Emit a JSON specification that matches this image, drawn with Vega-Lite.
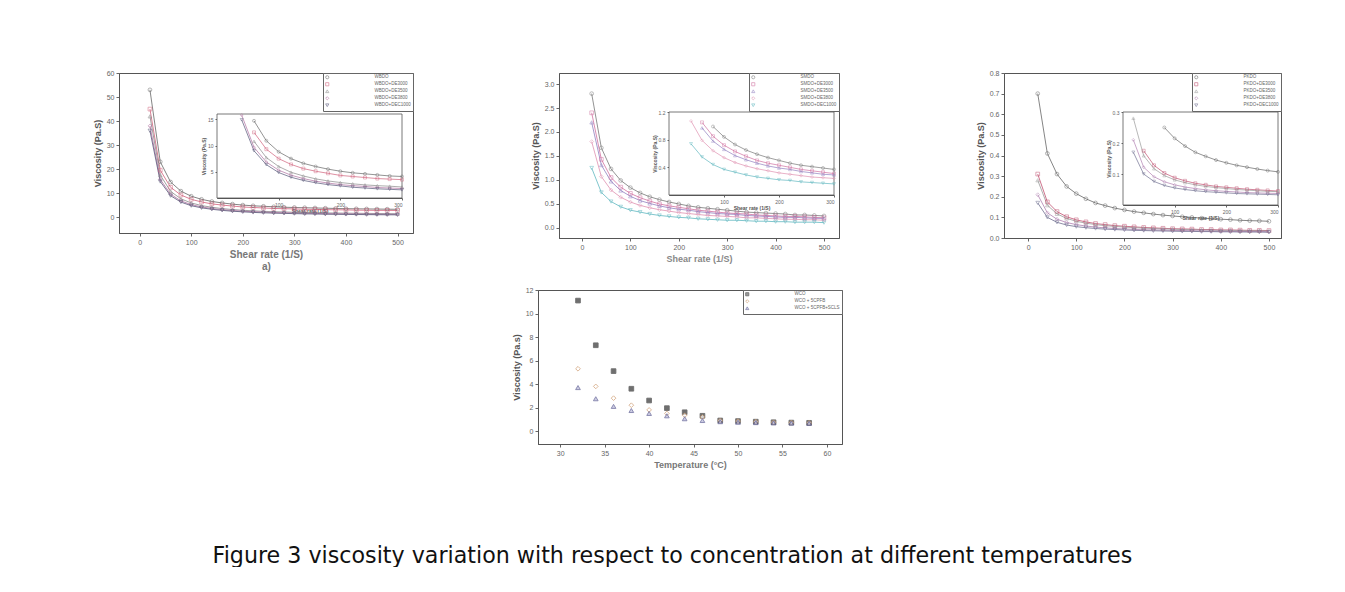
{
"$schema": "https://vega.github.io/schema/vega-lite/v6.json",
"background": "white",
"padding": {"left": 92, "top": 68, "right": 0, "bottom": 0},
"spacing": 13,
"title": {"text": "Figure 3 viscosity variation with respect to concentration at different temperatures", "orient": "bottom", "anchor": "middle", "font": "DejaVu Sans", "fontSize": 22.2, "fontWeight": "normal", "color": "#111111", "offset": 75, "dx": -15},
"config": {
  "font": "Liberation Sans",
  "view": {"stroke": "#555555", "strokeWidth": 1},
  "axis": {"grid": false, "labelFont": "Liberation Sans", "labelFontSize": 7, "labelColor": "#666666", "titleFont": "Liberation Sans", "titleFontSize": 9, "titleColor": "#555555", "tickColor": "#666666", "domainColor": "#555555", "tickSize": 3, "labelPadding": 2, "titlePadding": 4},
  "legend": {"orient": "top-right", "offset": 0, "strokeColor": "#666666", "fillColor": "white", "padding": 2, "labelFontSize": 4.5, "labelColor": "#666666", "symbolSize": 10, "rowPadding": 0, "labelOffset": 45, "symbolStrokeWidth": 0.8}
},
"resolve": {"scale": {"color": "independent", "shape": "independent", "fill": "independent"}, "legend": {"color": "independent", "shape": "independent", "fill": "independent"}},
"datasets": {
"p1": [
{"s":"WBDO","x":20,"v":53},{"s":"WBDO","x":40,"v":23.1},{"s":"WBDO","x":60,"v":14.7},{"s":"WBDO","x":80,"v":10.9},{"s":"WBDO","x":100,"v":8.8},{"s":"WBDO","x":120,"v":7.5},{"s":"WBDO","x":140,"v":6.6},{"s":"WBDO","x":160,"v":6.0},{"s":"WBDO","x":180,"v":5.5},{"s":"WBDO","x":200,"v":5.1},{"s":"WBDO","x":220,"v":4.8},{"s":"WBDO","x":240,"v":4.6},{"s":"WBDO","x":260,"v":4.4},{"s":"WBDO","x":280,"v":4.2},{"s":"WBDO","x":300,"v":4.1},{"s":"WBDO","x":320,"v":4.0},{"s":"WBDO","x":340,"v":3.9},{"s":"WBDO","x":360,"v":3.8},{"s":"WBDO","x":380,"v":3.7},{"s":"WBDO","x":400,"v":3.6},{"s":"WBDO","x":420,"v":3.55},{"s":"WBDO","x":440,"v":3.5},{"s":"WBDO","x":460,"v":3.45},{"s":"WBDO","x":480,"v":3.4},{"s":"WBDO","x":500,"v":3.35},
{"s":"WBDO+DE3000","x":20,"v":45},{"s":"WBDO+DE3000","x":40,"v":19.6},{"s":"WBDO+DE3000","x":60,"v":12.5},{"s":"WBDO+DE3000","x":80,"v":9.3},{"s":"WBDO+DE3000","x":100,"v":7.5},{"s":"WBDO+DE3000","x":120,"v":6.4},{"s":"WBDO+DE3000","x":140,"v":5.6},{"s":"WBDO+DE3000","x":160,"v":5.1},{"s":"WBDO+DE3000","x":180,"v":4.7},{"s":"WBDO+DE3000","x":200,"v":4.3},{"s":"WBDO+DE3000","x":220,"v":4.1},{"s":"WBDO+DE3000","x":240,"v":3.9},{"s":"WBDO+DE3000","x":260,"v":3.7},{"s":"WBDO+DE3000","x":280,"v":3.6},{"s":"WBDO+DE3000","x":300,"v":3.5},{"s":"WBDO+DE3000","x":320,"v":3.35},{"s":"WBDO+DE3000","x":340,"v":3.3},{"s":"WBDO+DE3000","x":360,"v":3.2},{"s":"WBDO+DE3000","x":380,"v":3.15},{"s":"WBDO+DE3000","x":400,"v":3.1},{"s":"WBDO+DE3000","x":420,"v":3.0},{"s":"WBDO+DE3000","x":440,"v":2.95},{"s":"WBDO+DE3000","x":460,"v":2.9},{"s":"WBDO+DE3000","x":480,"v":2.9},{"s":"WBDO+DE3000","x":500,"v":2.85},
{"s":"WBDO+DE3500","x":20,"v":42},{"s":"WBDO+DE3500","x":40,"v":17.6},{"s":"WBDO+DE3500","x":60,"v":10.8},{"s":"WBDO+DE3500","x":80,"v":7.7},{"s":"WBDO+DE3500","x":100,"v":6.0},{"s":"WBDO+DE3500","x":120,"v":4.9},{"s":"WBDO+DE3500","x":140,"v":4.2},{"s":"WBDO+DE3500","x":160,"v":3.65},{"s":"WBDO+DE3500","x":180,"v":3.25},{"s":"WBDO+DE3500","x":200,"v":2.95},{"s":"WBDO+DE3500","x":220,"v":2.7},{"s":"WBDO+DE3500","x":240,"v":2.5},{"s":"WBDO+DE3500","x":260,"v":2.35},{"s":"WBDO+DE3500","x":280,"v":2.25},{"s":"WBDO+DE3500","x":300,"v":2.1},{"s":"WBDO+DE3500","x":320,"v":2.0},{"s":"WBDO+DE3500","x":340,"v":1.95},{"s":"WBDO+DE3500","x":360,"v":1.85},{"s":"WBDO+DE3500","x":380,"v":1.8},{"s":"WBDO+DE3500","x":400,"v":1.75},{"s":"WBDO+DE3500","x":420,"v":1.7},{"s":"WBDO+DE3500","x":440,"v":1.65},{"s":"WBDO+DE3500","x":460,"v":1.6},{"s":"WBDO+DE3500","x":480,"v":1.55},{"s":"WBDO+DE3500","x":500,"v":1.5},
{"s":"WBDO+DE3800","x":20,"v":38},{"s":"WBDO+DE3800","x":40,"v":15.8},{"s":"WBDO+DE3800","x":60,"v":9.65},{"s":"WBDO+DE3800","x":80,"v":6.85},{"s":"WBDO+DE3800","x":100,"v":5.3},{"s":"WBDO+DE3800","x":120,"v":4.35},{"s":"WBDO+DE3800","x":140,"v":3.7},{"s":"WBDO+DE3800","x":160,"v":3.2},{"s":"WBDO+DE3800","x":180,"v":2.85},{"s":"WBDO+DE3800","x":200,"v":2.55},{"s":"WBDO+DE3800","x":220,"v":2.35},{"s":"WBDO+DE3800","x":240,"v":2.2},{"s":"WBDO+DE3800","x":260,"v":2.0},{"s":"WBDO+DE3800","x":280,"v":1.9},{"s":"WBDO+DE3800","x":300,"v":1.8},{"s":"WBDO+DE3800","x":320,"v":1.7},{"s":"WBDO+DE3800","x":340,"v":1.65},{"s":"WBDO+DE3800","x":360,"v":1.55},{"s":"WBDO+DE3800","x":380,"v":1.5},{"s":"WBDO+DE3800","x":400,"v":1.45},{"s":"WBDO+DE3800","x":420,"v":1.4},{"s":"WBDO+DE3800","x":440,"v":1.37},{"s":"WBDO+DE3800","x":460,"v":1.33},{"s":"WBDO+DE3800","x":480,"v":1.3},{"s":"WBDO+DE3800","x":500,"v":1.27},
{"s":"WBDO+DEC1000","x":20,"v":36},{"s":"WBDO+DEC1000","x":40,"v":14.9},{"s":"WBDO+DEC1000","x":60,"v":9.0},{"s":"WBDO+DEC1000","x":80,"v":6.35},{"s":"WBDO+DEC1000","x":100,"v":4.85},{"s":"WBDO+DEC1000","x":120,"v":3.95},{"s":"WBDO+DEC1000","x":140,"v":3.35},{"s":"WBDO+DEC1000","x":160,"v":2.9},{"s":"WBDO+DEC1000","x":180,"v":2.55},{"s":"WBDO+DEC1000","x":200,"v":2.3},{"s":"WBDO+DEC1000","x":220,"v":2.05},{"s":"WBDO+DEC1000","x":240,"v":1.9},{"s":"WBDO+DEC1000","x":260,"v":1.75},{"s":"WBDO+DEC1000","x":280,"v":1.65},{"s":"WBDO+DEC1000","x":300,"v":1.55},{"s":"WBDO+DEC1000","x":320,"v":1.45},{"s":"WBDO+DEC1000","x":340,"v":1.4},{"s":"WBDO+DEC1000","x":360,"v":1.3},{"s":"WBDO+DEC1000","x":380,"v":1.27},{"s":"WBDO+DEC1000","x":400,"v":1.22},{"s":"WBDO+DEC1000","x":420,"v":1.18},{"s":"WBDO+DEC1000","x":440,"v":1.14},{"s":"WBDO+DEC1000","x":460,"v":1.1},{"s":"WBDO+DEC1000","x":480,"v":1.07},{"s":"WBDO+DEC1000","x":500,"v":1.04}
],
"p2": [
{"s":"SMDO","x":20,"v":2.8},{"s":"SMDO","x":40,"v":1.67},{"s":"SMDO","x":60,"v":1.23},{"s":"SMDO","x":80,"v":0.99},{"s":"SMDO","x":100,"v":0.84},{"s":"SMDO","x":120,"v":0.73},{"s":"SMDO","x":140,"v":0.65},{"s":"SMDO","x":160,"v":0.59},{"s":"SMDO","x":180,"v":0.54},{"s":"SMDO","x":200,"v":0.5},{"s":"SMDO","x":220,"v":0.46},{"s":"SMDO","x":240,"v":0.43},{"s":"SMDO","x":260,"v":0.41},{"s":"SMDO","x":280,"v":0.39},{"s":"SMDO","x":300,"v":0.37},{"s":"SMDO","x":320,"v":0.35},{"s":"SMDO","x":340,"v":0.33},{"s":"SMDO","x":360,"v":0.32},{"s":"SMDO","x":380,"v":0.31},{"s":"SMDO","x":400,"v":0.3},{"s":"SMDO","x":420,"v":0.29},{"s":"SMDO","x":440,"v":0.27},{"s":"SMDO","x":460,"v":0.27},{"s":"SMDO","x":480,"v":0.26},{"s":"SMDO","x":500,"v":0.25},
{"s":"SMDO+DE3000","x":20,"v":2.4},{"s":"SMDO+DE3000","x":40,"v":1.43},{"s":"SMDO+DE3000","x":60,"v":1.05},{"s":"SMDO+DE3000","x":80,"v":0.85},{"s":"SMDO+DE3000","x":100,"v":0.72},{"s":"SMDO+DE3000","x":120,"v":0.63},{"s":"SMDO+DE3000","x":140,"v":0.56},{"s":"SMDO+DE3000","x":160,"v":0.5},{"s":"SMDO+DE3000","x":180,"v":0.46},{"s":"SMDO+DE3000","x":200,"v":0.43},{"s":"SMDO+DE3000","x":220,"v":0.4},{"s":"SMDO+DE3000","x":240,"v":0.37},{"s":"SMDO+DE3000","x":260,"v":0.35},{"s":"SMDO+DE3000","x":280,"v":0.33},{"s":"SMDO+DE3000","x":300,"v":0.31},{"s":"SMDO+DE3000","x":320,"v":0.3},{"s":"SMDO+DE3000","x":340,"v":0.29},{"s":"SMDO+DE3000","x":360,"v":0.27},{"s":"SMDO+DE3000","x":380,"v":0.26},{"s":"SMDO+DE3000","x":400,"v":0.25},{"s":"SMDO+DE3000","x":420,"v":0.24},{"s":"SMDO+DE3000","x":440,"v":0.24},{"s":"SMDO+DE3000","x":460,"v":0.23},{"s":"SMDO+DE3000","x":480,"v":0.22},{"s":"SMDO+DE3000","x":500,"v":0.21},
{"s":"SMDO+DE3500","x":20,"v":2.2},{"s":"SMDO+DE3500","x":40,"v":1.31},{"s":"SMDO+DE3500","x":60,"v":0.97},{"s":"SMDO+DE3500","x":80,"v":0.78},{"s":"SMDO+DE3500","x":100,"v":0.66},{"s":"SMDO+DE3500","x":120,"v":0.57},{"s":"SMDO+DE3500","x":140,"v":0.51},{"s":"SMDO+DE3500","x":160,"v":0.46},{"s":"SMDO+DE3500","x":180,"v":0.42},{"s":"SMDO+DE3500","x":200,"v":0.39},{"s":"SMDO+DE3500","x":220,"v":0.37},{"s":"SMDO+DE3500","x":240,"v":0.34},{"s":"SMDO+DE3500","x":260,"v":0.32},{"s":"SMDO+DE3500","x":280,"v":0.3},{"s":"SMDO+DE3500","x":300,"v":0.29},{"s":"SMDO+DE3500","x":320,"v":0.28},{"s":"SMDO+DE3500","x":340,"v":0.26},{"s":"SMDO+DE3500","x":360,"v":0.25},{"s":"SMDO+DE3500","x":380,"v":0.24},{"s":"SMDO+DE3500","x":400,"v":0.23},{"s":"SMDO+DE3500","x":420,"v":0.22},{"s":"SMDO+DE3500","x":440,"v":0.22},{"s":"SMDO+DE3500","x":460,"v":0.21},{"s":"SMDO+DE3500","x":480,"v":0.2},{"s":"SMDO+DE3500","x":500,"v":0.2},
{"s":"SMDO+DE3800","x":20,"v":1.8},{"s":"SMDO+DE3800","x":40,"v":1.07},{"s":"SMDO+DE3800","x":60,"v":0.79},{"s":"SMDO+DE3800","x":80,"v":0.64},{"s":"SMDO+DE3800","x":100,"v":0.54},{"s":"SMDO+DE3800","x":120,"v":0.47},{"s":"SMDO+DE3800","x":140,"v":0.42},{"s":"SMDO+DE3800","x":160,"v":0.38},{"s":"SMDO+DE3800","x":180,"v":0.35},{"s":"SMDO+DE3800","x":200,"v":0.32},{"s":"SMDO+DE3800","x":220,"v":0.3},{"s":"SMDO+DE3800","x":240,"v":0.28},{"s":"SMDO+DE3800","x":260,"v":0.26},{"s":"SMDO+DE3800","x":280,"v":0.25},{"s":"SMDO+DE3800","x":300,"v":0.24},{"s":"SMDO+DE3800","x":320,"v":0.23},{"s":"SMDO+DE3800","x":340,"v":0.21},{"s":"SMDO+DE3800","x":360,"v":0.21},{"s":"SMDO+DE3800","x":380,"v":0.2},{"s":"SMDO+DE3800","x":400,"v":0.19},{"s":"SMDO+DE3800","x":420,"v":0.18},{"s":"SMDO+DE3800","x":440,"v":0.18},{"s":"SMDO+DE3800","x":460,"v":0.17},{"s":"SMDO+DE3800","x":480,"v":0.17},{"s":"SMDO+DE3800","x":500,"v":0.16},
{"s":"SMDO+DEC1000","x":20,"v":1.25},{"s":"SMDO+DEC1000","x":40,"v":0.74},{"s":"SMDO+DEC1000","x":60,"v":0.55},{"s":"SMDO+DEC1000","x":80,"v":0.44},{"s":"SMDO+DEC1000","x":100,"v":0.37},{"s":"SMDO+DEC1000","x":120,"v":0.33},{"s":"SMDO+DEC1000","x":140,"v":0.29},{"s":"SMDO+DEC1000","x":160,"v":0.26},{"s":"SMDO+DEC1000","x":180,"v":0.24},{"s":"SMDO+DEC1000","x":200,"v":0.22},{"s":"SMDO+DEC1000","x":220,"v":0.21},{"s":"SMDO+DEC1000","x":240,"v":0.19},{"s":"SMDO+DEC1000","x":260,"v":0.18},{"s":"SMDO+DEC1000","x":280,"v":0.17},{"s":"SMDO+DEC1000","x":300,"v":0.16},{"s":"SMDO+DEC1000","x":320,"v":0.16},{"s":"SMDO+DEC1000","x":340,"v":0.15},{"s":"SMDO+DEC1000","x":360,"v":0.14},{"s":"SMDO+DEC1000","x":380,"v":0.14},{"s":"SMDO+DEC1000","x":400,"v":0.13},{"s":"SMDO+DEC1000","x":420,"v":0.13},{"s":"SMDO+DEC1000","x":440,"v":0.12},{"s":"SMDO+DEC1000","x":460,"v":0.12},{"s":"SMDO+DEC1000","x":480,"v":0.12},{"s":"SMDO+DEC1000","x":500,"v":0.11}
],
"p3": [
{"s":"PKDO","x":20,"v":0.7},{"s":"PKDO","x":40,"v":0.41},{"s":"PKDO","x":60,"v":0.31},{"s":"PKDO","x":80,"v":0.25},{"s":"PKDO","x":100,"v":0.215},{"s":"PKDO","x":120,"v":0.19},{"s":"PKDO","x":140,"v":0.17},{"s":"PKDO","x":160,"v":0.157},{"s":"PKDO","x":180,"v":0.145},{"s":"PKDO","x":200,"v":0.136},{"s":"PKDO","x":220,"v":0.128},{"s":"PKDO","x":240,"v":0.122},{"s":"PKDO","x":260,"v":0.116},{"s":"PKDO","x":280,"v":0.111},{"s":"PKDO","x":300,"v":0.107},{"s":"PKDO","x":320,"v":0.103},{"s":"PKDO","x":340,"v":0.1},{"s":"PKDO","x":360,"v":0.096},{"s":"PKDO","x":380,"v":0.094},{"s":"PKDO","x":400,"v":0.091},{"s":"PKDO","x":420,"v":0.089},{"s":"PKDO","x":440,"v":0.086},{"s":"PKDO","x":460,"v":0.084},{"s":"PKDO","x":480,"v":0.083},{"s":"PKDO","x":500,"v":0.081},
{"s":"PKDO+DE3000","x":20,"v":0.31},{"s":"PKDO+DE3000","x":40,"v":0.175},{"s":"PKDO+DE3000","x":60,"v":0.128},{"s":"PKDO+DE3000","x":80,"v":0.103},{"s":"PKDO+DE3000","x":100,"v":0.088},{"s":"PKDO+DE3000","x":120,"v":0.078},{"s":"PKDO+DE3000","x":140,"v":0.07},{"s":"PKDO+DE3000","x":160,"v":0.065},{"s":"PKDO+DE3000","x":180,"v":0.06},{"s":"PKDO+DE3000","x":200,"v":0.057},{"s":"PKDO+DE3000","x":220,"v":0.054},{"s":"PKDO+DE3000","x":240,"v":0.051},{"s":"PKDO+DE3000","x":260,"v":0.049},{"s":"PKDO+DE3000","x":280,"v":0.047},{"s":"PKDO+DE3000","x":300,"v":0.045},{"s":"PKDO+DE3000","x":320,"v":0.044},{"s":"PKDO+DE3000","x":340,"v":0.043},{"s":"PKDO+DE3000","x":360,"v":0.041},{"s":"PKDO+DE3000","x":380,"v":0.041},{"s":"PKDO+DE3000","x":400,"v":0.039},{"s":"PKDO+DE3000","x":420,"v":0.039},{"s":"PKDO+DE3000","x":440,"v":0.038},{"s":"PKDO+DE3000","x":460,"v":0.037},{"s":"PKDO+DE3000","x":480,"v":0.037},{"s":"PKDO+DE3000","x":500,"v":0.036},
{"s":"PKDO+DE3500","x":20,"v":0.28},{"s":"PKDO+DE3500","x":40,"v":0.159},{"s":"PKDO+DE3500","x":60,"v":0.117},{"s":"PKDO+DE3500","x":80,"v":0.095},{"s":"PKDO+DE3500","x":100,"v":0.081},{"s":"PKDO+DE3500","x":120,"v":0.072},{"s":"PKDO+DE3500","x":140,"v":0.065},{"s":"PKDO+DE3500","x":160,"v":0.06},{"s":"PKDO+DE3500","x":180,"v":0.056},{"s":"PKDO+DE3500","x":200,"v":0.053},{"s":"PKDO+DE3500","x":220,"v":0.05},{"s":"PKDO+DE3500","x":240,"v":0.048},{"s":"PKDO+DE3500","x":260,"v":0.046},{"s":"PKDO+DE3500","x":280,"v":0.044},{"s":"PKDO+DE3500","x":300,"v":0.043},{"s":"PKDO+DE3500","x":320,"v":0.041},{"s":"PKDO+DE3500","x":340,"v":0.04},{"s":"PKDO+DE3500","x":360,"v":0.039},{"s":"PKDO+DE3500","x":380,"v":0.038},{"s":"PKDO+DE3500","x":400,"v":0.037},{"s":"PKDO+DE3500","x":420,"v":0.037},{"s":"PKDO+DE3500","x":440,"v":0.036},{"s":"PKDO+DE3500","x":460,"v":0.035},{"s":"PKDO+DE3500","x":480,"v":0.035},{"s":"PKDO+DE3500","x":500,"v":0.034},
{"s":"PKDO+DE3800","x":20,"v":0.21},{"s":"PKDO+DE3800","x":40,"v":0.122},{"s":"PKDO+DE3800","x":60,"v":0.091},{"s":"PKDO+DE3800","x":80,"v":0.075},{"s":"PKDO+DE3800","x":100,"v":0.065},{"s":"PKDO+DE3800","x":120,"v":0.058},{"s":"PKDO+DE3800","x":140,"v":0.053},{"s":"PKDO+DE3800","x":160,"v":0.049},{"s":"PKDO+DE3800","x":180,"v":0.046},{"s":"PKDO+DE3800","x":200,"v":0.044},{"s":"PKDO+DE3800","x":220,"v":0.042},{"s":"PKDO+DE3800","x":240,"v":0.04},{"s":"PKDO+DE3800","x":260,"v":0.039},{"s":"PKDO+DE3800","x":280,"v":0.038},{"s":"PKDO+DE3800","x":300,"v":0.037},{"s":"PKDO+DE3800","x":320,"v":0.036},{"s":"PKDO+DE3800","x":340,"v":0.035},{"s":"PKDO+DE3800","x":360,"v":0.034},{"s":"PKDO+DE3800","x":380,"v":0.033},{"s":"PKDO+DE3800","x":400,"v":0.033},{"s":"PKDO+DE3800","x":420,"v":0.032},{"s":"PKDO+DE3800","x":440,"v":0.032},{"s":"PKDO+DE3800","x":460,"v":0.031},{"s":"PKDO+DE3800","x":480,"v":0.031},{"s":"PKDO+DE3800","x":500,"v":0.03},
{"s":"PKDO+DEC1000","x":20,"v":0.17},{"s":"PKDO+DEC1000","x":40,"v":0.1},{"s":"PKDO+DEC1000","x":60,"v":0.076},{"s":"PKDO+DEC1000","x":80,"v":0.063},{"s":"PKDO+DEC1000","x":100,"v":0.055},{"s":"PKDO+DEC1000","x":120,"v":0.05},{"s":"PKDO+DEC1000","x":140,"v":0.046},{"s":"PKDO+DEC1000","x":160,"v":0.043},{"s":"PKDO+DEC1000","x":180,"v":0.041},{"s":"PKDO+DEC1000","x":200,"v":0.039},{"s":"PKDO+DEC1000","x":220,"v":0.037},{"s":"PKDO+DEC1000","x":240,"v":0.036},{"s":"PKDO+DEC1000","x":260,"v":0.035},{"s":"PKDO+DEC1000","x":280,"v":0.034},{"s":"PKDO+DEC1000","x":300,"v":0.033},{"s":"PKDO+DEC1000","x":320,"v":0.032},{"s":"PKDO+DEC1000","x":340,"v":0.032},{"s":"PKDO+DEC1000","x":360,"v":0.031},{"s":"PKDO+DEC1000","x":380,"v":0.031},{"s":"PKDO+DEC1000","x":400,"v":0.03},{"s":"PKDO+DEC1000","x":420,"v":0.03},{"s":"PKDO+DEC1000","x":440,"v":0.029},{"s":"PKDO+DEC1000","x":460,"v":0.029},{"s":"PKDO+DEC1000","x":480,"v":0.029},{"s":"PKDO+DEC1000","x":500,"v":0.028}
],
"p4": [
{"s":"WCO","t":32,"v":11.1},{"s":"WCO","t":34,"v":7.3},{"s":"WCO","t":36,"v":5.1},{"s":"WCO","t":38,"v":3.6},{"s":"WCO","t":40,"v":2.6},{"s":"WCO","t":42,"v":1.95},{"s":"WCO","t":44,"v":1.6},{"s":"WCO","t":46,"v":1.3},{"s":"WCO","t":48,"v":0.9},{"s":"WCO","t":50,"v":0.85},{"s":"WCO","t":52,"v":0.8},{"s":"WCO","t":54,"v":0.75},{"s":"WCO","t":56,"v":0.72},{"s":"WCO","t":58,"v":0.7},
{"s":"WCO + 5CPFB","t":32,"v":5.3},{"s":"WCO + 5CPFB","t":34,"v":3.8},{"s":"WCO + 5CPFB","t":36,"v":2.8},{"s":"WCO + 5CPFB","t":38,"v":2.2},{"s":"WCO + 5CPFB","t":40,"v":1.8},{"s":"WCO + 5CPFB","t":42,"v":1.5},{"s":"WCO + 5CPFB","t":44,"v":1.35},{"s":"WCO + 5CPFB","t":46,"v":1.2},{"s":"WCO + 5CPFB","t":48,"v":0.9},{"s":"WCO + 5CPFB","t":50,"v":0.85},{"s":"WCO + 5CPFB","t":52,"v":0.8},{"s":"WCO + 5CPFB","t":54,"v":0.75},{"s":"WCO + 5CPFB","t":56,"v":0.72},{"s":"WCO + 5CPFB","t":58,"v":0.7},
{"s":"WCO + 5CPFB+SCLS","t":32,"v":3.7},{"s":"WCO + 5CPFB+SCLS","t":34,"v":2.75},{"s":"WCO + 5CPFB+SCLS","t":36,"v":2.1},{"s":"WCO + 5CPFB+SCLS","t":38,"v":1.75},{"s":"WCO + 5CPFB+SCLS","t":40,"v":1.5},{"s":"WCO + 5CPFB+SCLS","t":42,"v":1.3},{"s":"WCO + 5CPFB+SCLS","t":44,"v":1.05},{"s":"WCO + 5CPFB+SCLS","t":46,"v":0.9},{"s":"WCO + 5CPFB+SCLS","t":48,"v":0.8},{"s":"WCO + 5CPFB+SCLS","t":50,"v":0.75},{"s":"WCO + 5CPFB+SCLS","t":52,"v":0.72},{"s":"WCO + 5CPFB+SCLS","t":54,"v":0.7},{"s":"WCO + 5CPFB+SCLS","t":56,"v":0.68},{"s":"WCO + 5CPFB+SCLS","t":58,"v":0.66}
]
},
"vconcat": [
{
 "hconcat": [
  {
   "width": 294, "height": 160,
   "data": {"name": "p1"},
   "layer": [
    {
     "encoding": {
      "x": {"field": "x", "type": "quantitative", "scale": {"domain": [-40, 530], "nice": false, "zero": false}, "axis": {"values": [0,100,200,300,400,500], "title": ["Shear rate (1/S)", "a)"], "titleFontSize": 10, "titleFontWeight": "bold", "titleColor": "#777777"}},
      "y": {"field": "v", "type": "quantitative", "scale": {"domain": [-6.5, 60], "nice": false, "zero": false}, "axis": {"values": [0,10,20,30,40,50,60], "title": "Viscosity (Pa.S)", "titleFontWeight": "bold"}},
      "color": {"field": "s", "type": "nominal", "title": null, "scale": {"domain": ["WBDO","WBDO+DE3000","WBDO+DE3500","WBDO+DE3800","WBDO+DEC1000"], "range": ["#666666","#d0607a","#8a8a8a","#b070a0","#555577"]}}
     },
     "layer": [
      {"mark": {"type": "line", "strokeWidth": 0.8}},
      {"mark": {"type": "point", "filled": false, "size": 14, "strokeWidth": 0.7}, "encoding": {"shape": {"field": "s", "type": "nominal", "title": null, "scale": {"domain": ["WBDO","WBDO+DE3000","WBDO+DE3500","WBDO+DE3800","WBDO+DEC1000"], "range": ["circle","square","triangle-up","diamond","triangle-down"]}}}}
     ]
    },
    {
     "layer": [
      {"data": {"values": [{}]}, "mark": {"type": "rect", "fill": "white", "stroke": "#555555", "strokeWidth": 0.8},
       "encoding": {
        "x": {"datum": 0, "type": "quantitative", "scale": {"domain": [0, 300], "range": [98, 283], "nice": false, "zero": false}, "axis": {"orient": "bottom", "offset": -35, "values": [100,200,300], "labelFontSize": 5, "tickSize": 2, "title": "Shear rate (1/S)", "titleFontSize": 5, "titlePadding": 1}},
        "x2": {"datum": 300},
        "y": {"datum": 0, "type": "quantitative", "scale": {"domain": [0, 16], "range": [125, 41], "nice": false, "zero": false}, "axis": {"orient": "left", "offset": -98, "values": [5,10,15], "labelFontSize": 5, "tickSize": 2, "title": "Viscosity (Pa.S)", "titleFontSize": 5, "titlePadding": 1}},
        "y2": {"datum": 16}
       }},
      {
       "transform": [{"filter": "datum.x <= 300 && datum.v <= 16"}],
       "encoding": {
        "x": {"field": "x", "type": "quantitative", "scale": {"domain": [0, 300], "range": [98, 283], "nice": false, "zero": false}, "axis": {"orient": "bottom", "offset": -35, "values": [100,200,300], "labelFontSize": 5, "tickSize": 2, "title": "Shear rate (1/S)", "titleFontSize": 5, "titlePadding": 1}},
        "y": {"field": "v", "type": "quantitative", "scale": {"domain": [0, 16], "range": [125, 41], "nice": false, "zero": false}, "axis": {"orient": "left", "offset": -98, "values": [5,10,15], "labelFontSize": 5, "tickSize": 2, "title": "Viscosity (Pa.S)", "titleFontSize": 5, "titlePadding": 1}},
        "color": {"field": "s", "type": "nominal", "title": null}
       },
       "layer": [
        {"mark": {"type": "line", "strokeWidth": 0.7}},
        {"mark": {"type": "point", "filled": false, "size": 9, "strokeWidth": 0.6}, "encoding": {"shape": {"field": "s", "type": "nominal", "title": null}}}
       ]
      }
     ]
    }
   ],
   "resolve": {"scale": {"x": "independent", "y": "independent"}}
  },
  {
   "hconcat": [
    {
     "width": 280, "height": 165,
     "data": {"name": "p2"},
     "layer": [
      {
       "encoding": {
        "x": {"field": "x", "type": "quantitative", "scale": {"domain": [-47.5, 531], "nice": false, "zero": false}, "axis": {"values": [0,100,200,300,400,500], "title": "Shear rate (1/S)", "titleFontSize": 9, "titleColor": "#888888"}},
        "y": {"field": "v", "type": "quantitative", "scale": {"domain": [-0.21, 3.23], "nice": false, "zero": false}, "axis": {"values": [0,0.5,1,1.5,2,2.5,3], "format": ".1f", "title": "Viscosity (Pa.S)", "titleFontWeight": "bold"}},
        "color": {"field": "s", "type": "nominal", "title": null, "scale": {"domain": ["SMDO","SMDO+DE3000","SMDO+DE3500","SMDO+DE3800","SMDO+DEC1000"], "range": ["#777777","#d070a0","#9080c0","#e090b0","#60b8c0"]}}
       },
       "layer": [
        {"mark": {"type": "line", "strokeWidth": 0.8}},
        {"mark": {"type": "point", "filled": false, "size": 14, "strokeWidth": 0.7}, "encoding": {"shape": {"field": "s", "type": "nominal", "title": null, "scale": {"domain": ["SMDO","SMDO+DE3000","SMDO+DE3500","SMDO+DE3800","SMDO+DEC1000"], "range": ["circle","square","triangle-up","diamond","triangle-down"]}}}}
       ]
      },
      {
       "layer": [
        {"data": {"values": [{}]}, "mark": {"type": "rect", "fill": "white", "stroke": "#555555", "strokeWidth": 0.8},
         "encoding": {
          "x": {"datum": 0, "type": "quantitative", "scale": {"domain": [0, 300], "range": [110, 275], "nice": false, "zero": false}, "axis": {"orient": "bottom", "offset": -43, "values": [100,200,300], "labelFontSize": 5, "tickSize": 2, "title": "Shear rate (1/S)", "titleFontSize": 5, "titlePadding": 1}},
          "x2": {"datum": 300},
          "y": {"datum": 0, "type": "quantitative", "scale": {"domain": [0, 1.2], "range": [122, 39], "nice": false, "zero": false}, "axis": {"orient": "left", "offset": -110, "values": [0.4,0.8,1.2], "labelFontSize": 5, "tickSize": 2, "title": "Viscosity (Pa.S)", "titleFontSize": 5, "titlePadding": 1}},
          "y2": {"datum": 1.2}
         }},
        {
         "transform": [{"filter": "datum.x <= 300 && datum.v <= 1.2"}],
         "encoding": {
          "x": {"field": "x", "type": "quantitative", "scale": {"domain": [0, 300], "range": [110, 275], "nice": false, "zero": false}, "axis": {"orient": "bottom", "offset": -43, "values": [100,200,300], "labelFontSize": 5, "tickSize": 2, "title": "Shear rate (1/S)", "titleFontSize": 5, "titlePadding": 1}},
          "y": {"field": "v", "type": "quantitative", "scale": {"domain": [0, 1.2], "range": [122, 39], "nice": false, "zero": false}, "axis": {"orient": "left", "offset": -110, "values": [0.4,0.8,1.2], "labelFontSize": 5, "tickSize": 2, "title": "Viscosity (Pa.S)", "titleFontSize": 5, "titlePadding": 1}},
          "color": {"field": "s", "type": "nominal", "title": null}
         },
         "layer": [
          {"mark": {"type": "line", "strokeWidth": 0.7}},
          {"mark": {"type": "point", "filled": false, "size": 9, "strokeWidth": 0.6}, "encoding": {"shape": {"field": "s", "type": "nominal", "title": null}}}
         ]
        }
       ]
      }
     ],
     "resolve": {"scale": {"x": "independent", "y": "independent"}}
    },
    {
     "width": 277, "height": 165,
     "data": {"name": "p3"},
     "layer": [
      {
       "encoding": {
        "x": {"field": "x", "type": "quantitative", "scale": {"domain": [-50, 525], "nice": false, "zero": false}, "axis": {"values": [0,100,200,300,400,500], "title": null}},
        "y": {"field": "v", "type": "quantitative", "scale": {"domain": [0, 0.8], "nice": false, "zero": false}, "axis": {"values": [0,0.1,0.2,0.3,0.4,0.5,0.6,0.7,0.8], "format": ".1f", "title": "Viscosity (Pa.S)", "titleFontWeight": "bold"}},
        "color": {"field": "s", "type": "nominal", "title": null, "scale": {"domain": ["PKDO","PKDO+DE3000","PKDO+DE3500","PKDO+DE3800","PKDO+DEC1000"], "range": ["#666666","#c05070","#9a9a9a","#b080b0","#707090"]}}
       },
       "layer": [
        {"mark": {"type": "line", "strokeWidth": 0.8}},
        {"mark": {"type": "point", "filled": false, "size": 14, "strokeWidth": 0.7}, "encoding": {"shape": {"field": "s", "type": "nominal", "title": null, "scale": {"domain": ["PKDO","PKDO+DE3000","PKDO+DE3500","PKDO+DE3800","PKDO+DEC1000"], "range": ["circle","square","triangle-up","diamond","triangle-down"]}}}}
       ]
      },
      {
       "layer": [
        {"data": {"values": [{}]}, "mark": {"type": "rect", "fill": "white", "stroke": "#555555", "strokeWidth": 0.8},
         "encoding": {
          "x": {"datum": 0, "type": "quantitative", "scale": {"domain": [0, 300], "range": [119, 274], "nice": false, "zero": false}, "axis": {"orient": "bottom", "offset": -33, "values": [100,200,300], "labelFontSize": 5, "tickSize": 2, "title": "Shear rate (1/S)", "titleFontSize": 5, "titlePadding": 1}},
          "x2": {"datum": 300},
          "y": {"datum": 0, "type": "quantitative", "scale": {"domain": [0, 0.3], "range": [132, 39], "nice": false, "zero": false}, "axis": {"orient": "left", "offset": -119, "values": [0.1,0.2,0.3], "labelFontSize": 5, "tickSize": 2, "title": "Viscosity (Pa.S)", "titleFontSize": 5, "titlePadding": 1}},
          "y2": {"datum": 0.3}
         }},
        {
         "transform": [{"filter": "datum.x <= 300 && datum.v <= 0.3"}],
         "encoding": {
          "x": {"field": "x", "type": "quantitative", "scale": {"domain": [0, 300], "range": [119, 274], "nice": false, "zero": false}, "axis": {"orient": "bottom", "offset": -33, "values": [100,200,300], "labelFontSize": 5, "tickSize": 2, "title": "Shear rate (1/S)", "titleFontSize": 5, "titlePadding": 1}},
          "y": {"field": "v", "type": "quantitative", "scale": {"domain": [0, 0.3], "range": [132, 39], "nice": false, "zero": false}, "axis": {"orient": "left", "offset": -119, "values": [0.1,0.2,0.3], "labelFontSize": 5, "tickSize": 2, "title": "Viscosity (Pa.S)", "titleFontSize": 5, "titlePadding": 1}},
          "color": {"field": "s", "type": "nominal", "title": null}
         },
         "layer": [
          {"mark": {"type": "line", "strokeWidth": 0.7}},
          {"mark": {"type": "point", "filled": false, "size": 9, "strokeWidth": 0.6}, "encoding": {"shape": {"field": "s", "type": "nominal", "title": null}}}
         ]
        }
       ]
      }
     ],
     "resolve": {"scale": {"x": "independent", "y": "independent"}}
    }
   ],
   "spacing": 135,
   "resolve": {"scale": {"color": "independent", "shape": "independent"}, "legend": {"color": "independent", "shape": "independent"}}
  }
 ],
 "spacing": 116,
 "resolve": {"scale": {"color": "independent", "shape": "independent"}, "legend": {"color": "independent", "shape": "independent"}}
},
{
 "hconcat": [
  {
   "width": 1, "height": 1,
   "data": {"values": []},
   "mark": {"type": "point", "opacity": 0},
   "view": {"stroke": null}
  },
  {
   "width": 304, "height": 154,
   "data": {"name": "p4"},
   "mark": {"type": "point", "filled": false, "size": 22, "strokeWidth": 0.9},
   "encoding": {
    "x": {"field": "t", "type": "quantitative", "scale": {"domain": [27.5, 61.7], "nice": false, "zero": false}, "axis": {"values": [30,35,40,45,50,55,60], "title": "Temperature (°C)", "titleFontSize": 9, "titleColor": "#777777"}},
    "y": {"field": "v", "type": "quantitative", "scale": {"domain": [-1.1, 12], "nice": false, "zero": false}, "axis": {"values": [0,2,4,6,8,10,12], "title": "Viscosity (Pa.s)", "titleFontWeight": "bold"}},
    "color": {"field": "s", "type": "nominal", "title": null, "scale": {"domain": ["WCO","WCO + 5CPFB","WCO + 5CPFB+SCLS"], "range": ["#333333","#c89060","#50508a"]}},
    "fill": {"field": "s", "type": "nominal", "title": null, "scale": {"domain": ["WCO","WCO + 5CPFB","WCO + 5CPFB+SCLS"], "range": ["#333333","#ffffff","#b8b8d8"]}},
    "shape": {"field": "s", "type": "nominal", "title": null, "scale": {"domain": ["WCO","WCO + 5CPFB","WCO + 5CPFB+SCLS"], "range": ["square","diamond","triangle-up"]}}
   }
  }
 ],
 "spacing": 391,
 "resolve": {"scale": {"color": "independent", "shape": "independent", "fill": "independent"}, "legend": {"color": "independent", "shape": "independent", "fill": "independent"}}
}
]
}
